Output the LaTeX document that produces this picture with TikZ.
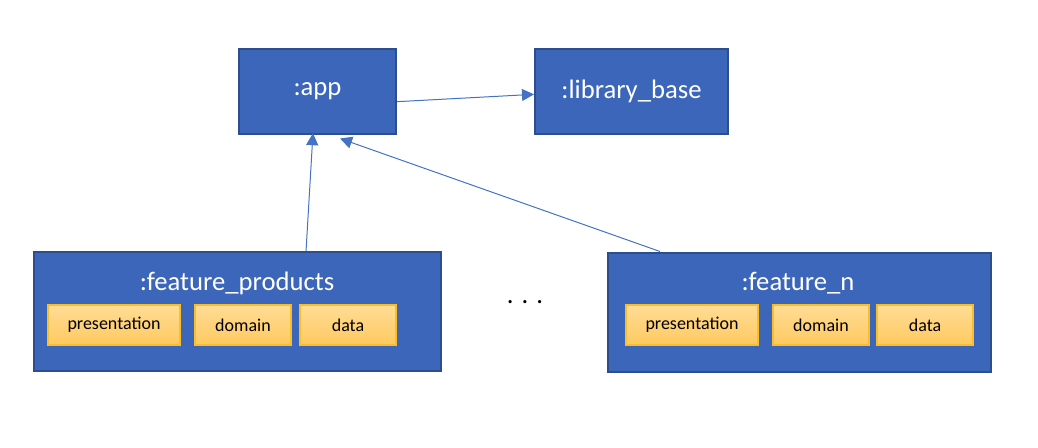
\documentclass[tikz,border=0pt]{standalone}
\usepackage{fontspec}
\setmainfont{Carlito}
\usetikzlibrary{arrows.meta}
\definecolor{modblue}{RGB}{59,102,185}
\definecolor{modedge}{RGB}{44,78,140}
\definecolor{arrblue}{RGB}{68,114,196}
\definecolor{laytop}{RGB}{255,220,150}
\definecolor{laybot}{RGB}{255,201,95}
\definecolor{layedge}{RGB}{250,190,40}
\begin{document}
\begin{tikzpicture}[x=0.75pt, y=-0.75pt,
        M/.style={draw=modedge, line width=1.5pt, fill=modblue, minimum height=63.75pt,
            text=white, font=\fontsize{20}{24}\selectfont},
        B/.style={draw=modedge, line width=1.5pt, fill=modblue, minimum height=89.25pt},
        T/.style={text=white, font=\fontsize{20}{24}\selectfont},
        L/.style={draw=layedge, line width=0.8pt, top color=laytop, bottom color=laybot,
            minimum height=30pt, font=\fontsize{13.5}{16}\selectfont},
        dep/.style={draw=arrblue, line width=0.75pt, -{Triangle[length=9pt, width=9pt]}}
      ]
      \useasboundingbox (0,0) rectangle (1038,447);
      \node [M, minimum width=117.75pt] (app) at (317.5,91) {:app};
      \node [M, minimum width=144.75pt] (lib) at (631.5,91) {:library\_base};
      % feature modules
      \node [B, minimum width=305.25pt] (fp) at (237.5,311.5) {};
      \node [T] (fpname) at (237,283) {:feature\_products};
      \node [L, minimum width=99pt] (fppres) at (114,325) {presentation};
      \node [L, minimum width=72pt] (fpdom) at (243,325) {domain};
      \node [L, minimum width=72pt] (fpdata) at (348,325) {data};
      \node [B, minimum width=287.25pt] (fn) at (799.5,312) {};
      \node [T] (fnname) at (798,283) {:feature\_n};
      \node [L, minimum width=99pt] (fnpres) at (692,325) {presentation};
      \node [L, minimum width=72pt] (fndom) at (821,325) {domain};
      \node [L, minimum width=72pt] (fndata) at (925,325) {data};
      \node [font=\fontsize{20}{24}\selectfont] (dots) at (525,302) {. . .};
      % dependencies
      \draw [dep] ([yshift=-8pt]app.east) -- ([yshift=-2.5pt]lib.west);
      \draw [dep] ([xshift=51.4pt]fp.north) -- ([xshift=-3.4pt, yshift=1pt]app.south);
      \draw [dep] ([xshift=-104.6pt]fn.north) -- ([xshift=16.9pt, yshift=-3pt]app.south);
    \end{tikzpicture}
\end{document}
